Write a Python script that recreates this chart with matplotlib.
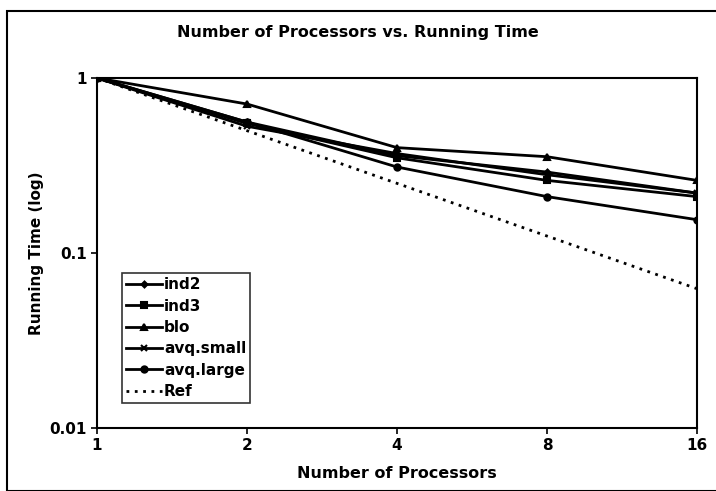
import matplotlib.pyplot as plt
from matplotlib.patches import Rectangle
from matplotlib.ticker import FixedLocator, NullLocator

procs = [1, 2, 4, 8, 16]
ind2 = [1, 0.56, 0.36, 0.29, 0.22]
ind3 = [1, 0.55, 0.35, 0.26, 0.21]
blo = [1, 0.71, 0.40, 0.355, 0.26]
avq_small = [1, 0.53, 0.37, 0.28, 0.22]
avq_large = [1, 0.56, 0.31, 0.21, 0.155]
ref = [1, 0.5, 0.25, 0.125, 0.0625]

plt.rcParams['font.family'] = ['DejaVu Sans']
plt.rcParams['font.weight'] = 'bold'

fig = plt.figure(figsize=(7.16, 4.91), dpi=100)
ax = fig.add_axes([97 / 716, 1 - 428 / 491, 600 / 716, 350 / 491])

# outer frame around the chart
fig.patches.append(Rectangle((7 / 716, 0), 1, 1 - 11 / 491, transform=fig.transFigure,
                             fill=False, lw=1.5, ec='black'))

series = [
    ('ind2', ind2, 'D', 3),
    ('ind3', ind3, 's', 4),
    ('blo', blo, '^', 4.5),
    ('avq.small', avq_small, 'x', 4),
    ('avq.large', avq_large, 'o', 4.5),
]
for name, vals, mk, ms in series:
    ax.plot(procs, vals, color='black', lw=2, marker=mk, ms=ms, mew=1.5, label=name)
ax.plot(procs, ref, color='black', lw=2, ls=(0, (1, 2)), label='Ref')

ax.set_xscale('log', base=2)
ax.set_yscale('log')
ax.set_xlim(1, 16)
ax.set_ylim(0.01, 1)
ax.xaxis.set_major_locator(FixedLocator(procs))
ax.xaxis.set_minor_locator(NullLocator())
ax.set_xticklabels([str(p) for p in procs])
ax.yaxis.set_major_locator(FixedLocator([0.01, 0.1, 1]))
ax.yaxis.set_minor_locator(NullLocator())
ax.set_yticklabels(['0.01', '0.1', '1'])
ax.tick_params(labelsize=11, direction='out', length=4, width=1.2)
for lab in ax.get_xticklabels() + ax.get_yticklabels():
    lab.set_fontweight('bold')
for s in ax.spines.values():
    s.set_linewidth(1.5)

fig.text(0.5, 1 - 33 / 491, 'Number of Processors vs. Running Time', fontsize=11.5,
         fontweight='bold', ha='center', va='center')
ax.set_xlabel('Number of Processors', fontsize=11.5, fontweight='bold', labelpad=9)
ax.set_ylabel('Running Time (log)', fontsize=11, fontweight='bold', labelpad=4)

leg = ax.legend(loc='lower left', bbox_to_anchor=(25 / 600, 25 / 350), fontsize=11, frameon=True,
                fancybox=False, edgecolor='black', handlelength=2.4, handletextpad=0.1,
                labelspacing=0.42, borderpad=0.25, borderaxespad=0)
leg.get_frame().set_linewidth(1.2)
for t in leg.get_texts():
    t.set_fontweight('bold')

fig.savefig('out.png', dpi=100)
